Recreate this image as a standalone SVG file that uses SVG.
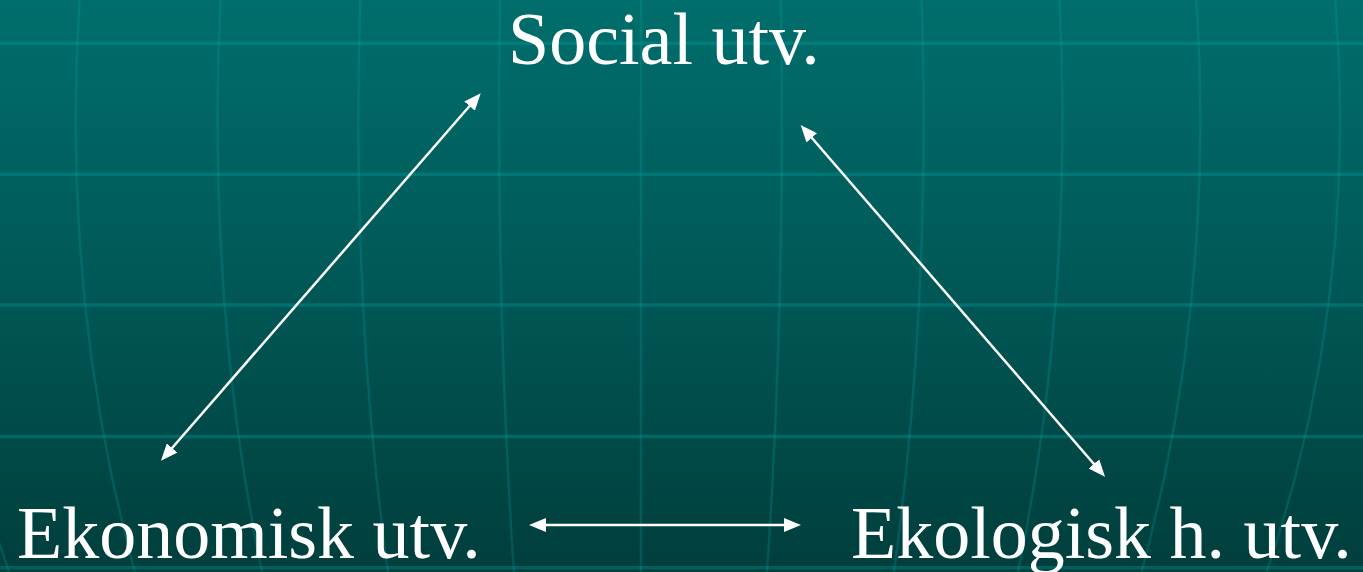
<svg xmlns="http://www.w3.org/2000/svg" width="1363" height="572" viewBox="0 0 1363 572">
  <defs>
    <linearGradient id="bg" x1="0" y1="0" x2="0" y2="1">
      <stop offset="0" stop-color="#006e6c"/>
      <stop offset="0.5" stop-color="#005856"/>
      <stop offset="1" stop-color="#003e3c"/>
    </linearGradient>
    <marker id="ah" markerWidth="17" markerHeight="14" refX="11" refY="7" orient="auto-start-reverse" markerUnits="userSpaceOnUse">
      <path d="M0,0 L17,7 L0,14 z" fill="#ffffff"/>
    </marker>
    <style>
      .hgrid { stroke: #00a8a6; stroke-opacity: 0.32; stroke-width: 3.5; fill: none; }
      .vgrid { stroke: #00a8a6; stroke-opacity: 0.24; stroke-width: 2.5; fill: none; }
      .label { font-family: "Liberation Serif", "Times New Roman", serif; font-size: 74px; fill: #ffffff; }
      .conn { stroke: #ffffff; stroke-width: 2.5; fill: none; marker-start: url(#ah); marker-end: url(#ah); }
    </style>
  </defs>

  <g id="background">
    <rect x="0" y="0" width="1363" height="572" fill="url(#bg)"/>
    <g id="grid-vertical">
      <polyline class="vgrid" points="-1.7,540 9,572"/>
      <polyline class="vgrid" points="79.6,0 76.6,60 75.6,120 76.6,180 79.6,240 84.6,300 91.7,360 101,420 112.5,480 126.4,540 134.9,572"/>
      <polyline class="vgrid" points="220.5,0 218.2,60 217.5,120 218.2,180 220.5,240 224.2,300 229.5,360 236.4,420 245.1,480 255.5,540 261.9,572"/>
      <polyline class="vgrid" points="360.3,0 358.8,60 358.3,120 358.8,180 360.3,240 362.8,300 366.3,360 371,420 376.7,480 383.7,540 387.9,572"/>
      <polyline class="vgrid" points="500.2,0 499.4,60 499.2,120 499.4,180 500.2,240 501.4,300 503.2,360 505.5,420 508.4,480 511.8,540 514,572"/>
      <polyline class="vgrid" points="641,0 641,572"/>
      <polyline class="vgrid" points="780.8,0 781.6,60 781.8,120 781.6,180 780.8,240 779.6,300 777.8,360 775.5,420 772.6,480 769.1,540 766.9,572"/>
      <polyline class="vgrid" points="921.7,0 923.2,60 923.7,120 923.2,180 921.7,240 919.2,300 915.6,360 911,420 905.2,480 898.2,540 893.9,572"/>
      <polyline class="vgrid" points="1059.5,0 1061.8,60 1062.5,120 1061.8,180 1059.5,240 1055.8,300 1050.5,360 1043.6,420 1034.9,480 1024.5,540 1018.1,572"/>
      <polyline class="vgrid" points="1196.4,0 1199.4,60 1200.3,120 1199.4,180 1196.4,240 1191.4,300 1184.4,360 1175.2,420 1163.8,480 1149.9,540 1141.5,572"/>
      <polyline class="vgrid" points="1335.2,0 1338.9,60 1340.2,120 1338.9,180 1335.2,240 1329,300 1320.2,360 1308.8,420 1294.5,480 1277.2,540 1266.6,572"/>
    </g>
    <g id="grid-horizontal">
      <line class="hgrid" x1="0" y1="43.3" x2="1363" y2="43.3"/>
      <line class="hgrid" x1="0" y1="174.3" x2="1363" y2="174.3"/>
      <line class="hgrid" x1="0" y1="305" x2="1363" y2="305"/>
      <line class="hgrid" x1="0" y1="436.5" x2="1363" y2="436.5"/>
      <line class="hgrid" x1="0" y1="567.7" x2="1363" y2="567.7"/>
    </g>
  </g>

  <g id="connectors">
    <line class="conn" x1="476.8" y1="97.8" x2="164.9" y2="456.2"/>
    <line class="conn" x1="804.6" y1="129.5" x2="1101.1" y2="472.2"/>
    <line class="conn" x1="535" y1="525" x2="795" y2="525"/>
  </g>

  <g id="node-social">
    <text class="label" x="508" y="64">Social utv.</text>
  </g>
  <g id="node-ekonomisk">
    <text class="label" x="17" y="558">Ekonomisk utv.</text>
  </g>
  <g id="node-ekologisk">
    <text class="label" x="851" y="558">Ekologisk h. utv.</text>
  </g>
</svg>
